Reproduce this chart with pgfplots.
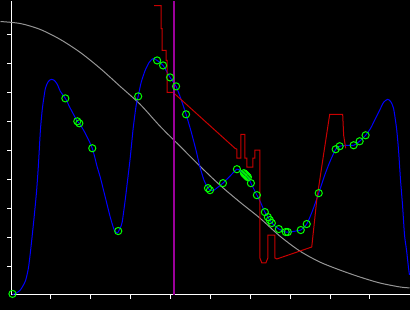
\documentclass[border=0pt]{standalone}
\usepackage{pgfplots}
\pgfplotsset{compat=1.18}
\usetikzlibrary{backgrounds}
\definecolor{cblue}{RGB}{0,0,255}
\definecolor{cred}{RGB}{200,0,0}
\definecolor{cgray}{RGB}{150,150,150}
\definecolor{cgreen}{RGB}{0,255,0}
\definecolor{cmag}{RGB}{155,0,155}
\begin{document}
\begin{tikzpicture}[show background rectangle, inner frame sep=0pt,
  background rectangle/.style={fill=black, draw=none}]
\begin{axis}[
  scale only axis, width=399pt, height=295pt,
  xmin=11, xmax=410, ymin=0, ymax=295,
  enlargelimits=false,
  axis lines=left,
  axis line style={white, line width=1pt, -},
  clip=false,
  xtick={50.3,90.3,130.3,170.3,210.3,250.3,290.3,330.3,370.3},
  ytick={28.7,57.7,86.7,115.7,144.7,173.7,202.7,231.7,260.7},
  xticklabels={}, yticklabels={},
  tick align=outside, major tick length=4pt,
  tick style={white, line width=1pt},
]
\path (axis cs:0,-15) rectangle (axis cs:410,295);
% gray curve
\addplot[cgray, line width=1pt, smooth] coordinates {
(0,274)(20,272)(40,266)(60,256)(80,243)(100,227)(120,209)(140,191)(160,169)
(180,149)(200,129)(220,110)(240,93)(260,77)(280,59)(300,44)(320,33)(340,25)
(360,18)(380,12)(400,8)(410,7)};
% blue curve
\addplot[cblue, line width=1pt, smooth, tension=0.4] coordinates {
(12,0)(16,2)(20,5)(25,14)(28,27)(30,43)(33,71)(36,102)(38,130)(40,165)(42,187)
(45,207)(48,214)(51,216)(54,215)(57,211)(60,204)(65,197)(70,187)(77,174)(79,172)
(85,162)(92,147)(97,128)(100,118)(105,98)(110,78)(114,65)(117,62)(118,63)(120,67)
(122,73)(125,95)(128,120)(130,137)(133,167)(136,190)(138,199)(141,213)(145,225)
(149,233)(153,237)(157,235)(163,230)(170,218)(176,209)(181,196)(186,181)(191,164)
(196,145)(200,128)(204,115)(208,107)(210,105)(214,105)(218,108)(223,112)(230,119)
(237,126)(241,124)(245,121)(248,118)(251,112)(257,100)(261,92)(265,83)(268,78)
(272,72)(279,66)(286,63)(290,63)(296,64)(301,65)(307,71)(313,85)(319,102)(325,120)
(330,133)(336,146)(340,149)(347,150)(354,150)(360,154)(366,160)(371,167)(375,175)
(380,185)(384,193)(388,196)(391,194)(394,187)(397,167)(399,145)(401,115)(403,90)
(405,60)(407,45)(409,27)(410,20)};
% red step line
\addplot[cred, line width=1pt] coordinates {
(154,290)(161,290)(161,267)(162,267)(162,245)(166,245)(166,235)(167,235)(167,203)
(173,203)(235,147)(237,146)(237,137)(241,137)(241,161)(245,161)(245,137)(247,137)
(247,128)(253,128)(253,137)(255,137)(255,145)(260,145)(260,37)(262,32)(266,32)
(268,37)(268,60)(275,60)(275,37)(277,36)(312,48)(317,95)(323,135)(330,181)
(343,181)(344,160)(346,147)};
% magenta vertical line
\addplot[cmag, line width=1.2pt] coordinates {(174,0)(174,295)};
% green circles
\addplot[only marks, mark=o, mark size=3.6pt,
  mark options={draw=cgreen, line width=1pt}] coordinates {
(12,1)(65,197)(77,174)(79,172)(92,147)(118,64)(138,199)(157,235)(163,230)(170,218)
(176,209)(186,181)(208,107)(210,105)(223,112)(237,126)(244,122)(245,121)(246,120)
(247,119)(248,118)(251,112)(257,100)(265,83)(268,78)(270,75)(272,72)(279,66)
(286,63)(288,63)(301,65)(307,71)(319,102)(336,146)(340,149)(354,150)(360,154)(366,160)};
\end{axis}
\end{tikzpicture}
\end{document}
